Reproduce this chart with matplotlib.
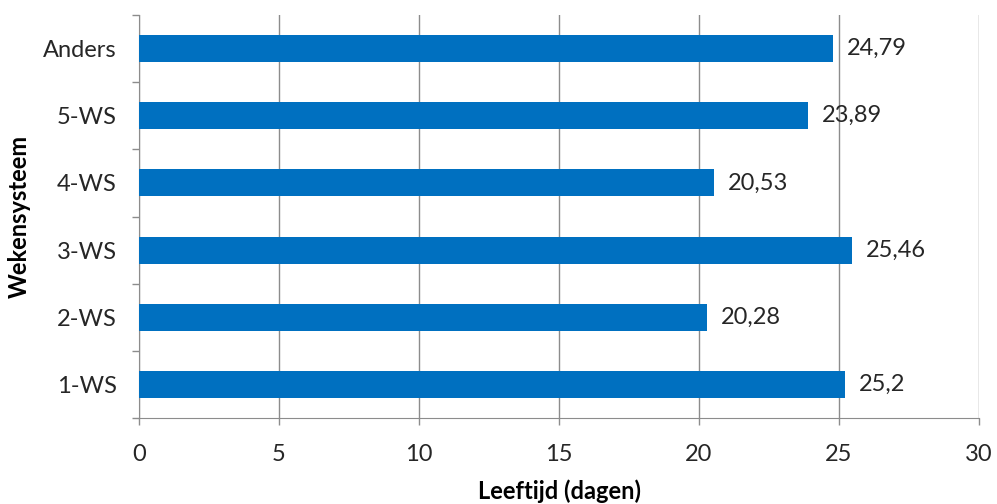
import matplotlib.pyplot as plt

categories = ["1-WS", "2-WS", "3-WS", "4-WS", "5-WS", "Anders"]
values = [25.2, 20.28, 25.46, 20.53, 23.89, 24.79]
labels = ["25,2", "20,28", "25,46", "20,53", "23,89", "24,79"]
xticks = [0, 5, 10, 15, 20, 25, 30]

plt.rcParams['font.family'] = ['Lato', 'DejaVu Sans']

fig = plt.figure(figsize=(9.97, 5.04), dpi=100)
ax = fig.add_axes([139/997, 1 - 418/504, (979 - 139)/997, (418 - 15)/504])

pos = list(range(len(categories)))
ax.barh(pos, values, height=0.4, color="#0070C0", zorder=3)
for p, v, t in zip(pos, values, labels):
    ax.annotate(t, (v, p), xytext=(10, 0), textcoords="offset points",
                va="center", ha="left", fontsize=17, color="#262626")

ax.set_xlim(0, 30)
ax.set_ylim(-0.5, len(categories) - 0.5)
ax.set_xticks(xticks)
ax.set_xticklabels([str(x) for x in xticks])
ax.set_yticks(pos)
ax.set_yticklabels(categories)
ax.set_yticks([p - 0.5 for p in pos] + [len(pos) - 0.5], minor=True)
ax.tick_params(axis="y", which="major", length=0, pad=16, labelsize=17, labelcolor="#262626")
ax.tick_params(axis="y", which="minor", length=5, color="#8c8c8c", width=1)
ax.tick_params(axis="x", length=5, color="#8c8c8c", width=1, pad=14, labelsize=17, labelcolor="#262626")

ax.grid(axis="x", color="#8c8c8c", linewidth=1, zorder=0)
for s in ["top", "right"]:
    ax.spines[s].set_visible(False)
for s in ["left", "bottom"]:
    ax.spines[s].set_color("#8c8c8c")

ax.set_xlabel("Leeftijd (dagen)", fontsize=17, fontweight="bold", labelpad=10)
ax.set_ylabel("Wekensysteem", fontsize=17, fontweight="bold")
ax.yaxis.set_label_coords(-0.129, 0.5)

fig.savefig("out.png", dpi=100)
